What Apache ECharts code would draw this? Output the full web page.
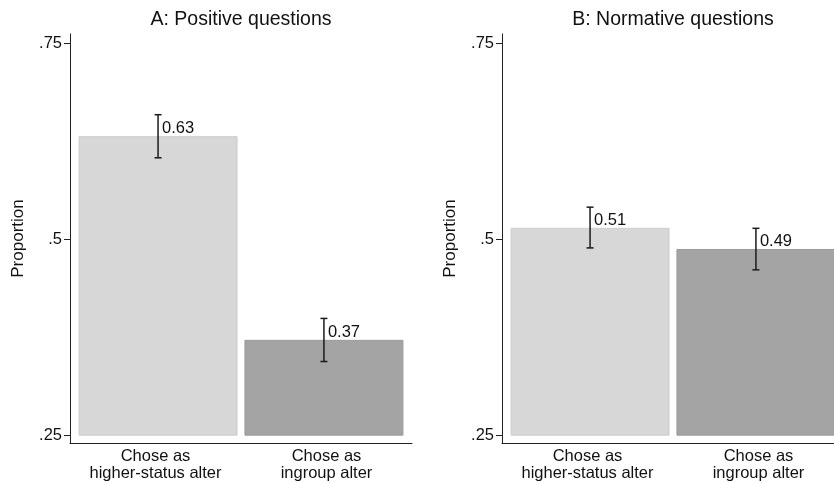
<!DOCTYPE html>
<html>
<head>
<meta charset="utf-8">
<script src="https://cdn.jsdelivr.net/npm/echarts@6/dist/echarts.min.js"></script>
<style>
html,body{margin:0;padding:0;background:#fff;}
#main{width:834px;height:484px;}
</style>
</head>
<body>
<div id="main"></div>
<script>
// ---- data ----
const categories = ['Chose as\nhigher-status alter', 'Chose as\ningroup alter'];
const panelTitles = ['A: Positive questions', 'B: Normative questions'];
const positiveMeans = [0.631, 0.371];
const positiveLow = [0.604, 0.344];
const positiveHigh = [0.659, 0.399];
const normativeMeans = [0.514, 0.487];
const normativeLow = [0.489, 0.461];
const normativeHigh = [0.541, 0.514];
const yTicks = [0.25, 0.5, 0.75];
const yTickLabels = ['.25', '.5', '.75'];
const baseValue = 0.25;
const yName = 'Proportion';

// ---- styles ----
const FONT = '"Liberation Sans", Arial, Helvetica, sans-serif';
const TXT = '#111';
const barFill = ['#d7d7d7', '#a4a4a4'];
const barStroke = ['#cdcdcd', '#9a9a9a'];

function barGeom(api, i) {
  const band = api.size([1, 0])[0];
  const w = band * 0.924;
  const shift = (i === 0 ? 1 : -1) * band * 0.015;
  return { w, shift };
}

function renderBar(params, api) {
  const i = api.value(0), v = api.value(1);
  const top = api.coord([i, v]);
  const bottom = api.coord([i, baseValue]);
  const g = barGeom(api, i);
  const cx = top[0] + g.shift;
  return {
    type: 'rect',
    shape: { x: cx - g.w / 2, y: top[1], width: g.w, height: bottom[1] - top[1] },
    style: { fill: barFill[i], stroke: barStroke[i], lineWidth: 1 }
  };
}

function renderErr(params, api) {
  const i = api.value(0), v = api.value(1), lo = api.value(2), hi = api.value(3);
  const g = barGeom(api, i);
  const pm = api.coord([i, v]);
  const pl = api.coord([i, lo]);
  const ph = api.coord([i, hi]);
  const cx = pm[0] + g.shift;
  const cap = 3.5;
  const ls = { stroke: '#1a1a1a', lineWidth: 1.5 };
  return {
    type: 'group',
    children: [
      { type: 'line', shape: { x1: cx, y1: ph[1], x2: cx, y2: pl[1] }, style: ls },
      { type: 'line', shape: { x1: cx - cap, y1: ph[1], x2: cx + cap, y2: ph[1] }, style: ls },
      { type: 'line', shape: { x1: cx - cap, y1: pl[1], x2: cx + cap, y2: pl[1] }, style: ls },
      { type: 'text', style: { text: v.toFixed(2), x: cx + 4, y: pm[1] - 8, fill: TXT,
          font: '16.5px ' + FONT, align: 'left', verticalAlign: 'middle' } }
    ]
  };
}

const grids = [
  { left: 70, width: 342, top: 34, bottom: 41, outerBoundsMode: 'none', containLabel: false },
  { left: 502, width: 342, top: 34, bottom: 41, outerBoundsMode: 'none', containLabel: false }
];

const panels = [
  { means: positiveMeans, low: positiveLow, high: positiveHigh },
  { means: normativeMeans, low: normativeLow, high: normativeHigh }
];

const option = {
  animation: false,
  backgroundColor: '#fff',
  title: panelTitles.map((t, k) => ({
    text: t,
    left: k === 0 ? 241 : 673,
    textAlign: 'center',
    top: 10,
    padding: 0,
    textStyle: { fontFamily: FONT, fontSize: 19.5, fontWeight: 'normal', color: TXT }
  })),
  grid: grids,
  xAxis: grids.map((g, k) => ({
    type: 'category',
    gridIndex: k,
    data: categories,
    boundaryGap: true,
    axisTick: { show: false },
    axisLine: { lineStyle: { color: '#222', width: 1 } },
    axisLabel: { fontFamily: FONT, fontSize: 16.5, lineHeight: 17, color: TXT, margin: 5, interval: 0 }
  })),
  yAxis: grids.map((g, k) => ({
    type: 'value',
    gridIndex: k,
    min: 0.24,
    max: 0.762,
    name: yName,
    nameLocation: 'middle',
    nameGap: 43,
    nameTextStyle: { fontFamily: FONT, fontSize: 17, color: TXT },
    splitLine: { show: false },
    axisLine: { show: true, lineStyle: { color: '#222', width: 1 } },
    axisTick: { show: true, length: 6, customValues: yTicks, lineStyle: { color: '#222' } },
    axisLabel: {
      customValues: yTicks,
      fontFamily: FONT, fontSize: 16.5, color: TXT, margin: 8,
      formatter: v => yTickLabels[yTicks.indexOf(v)]
    }
  })),
  series: []
};

panels.forEach((p, k) => {
  const data = p.means.map((m, i) => [i, m, p.low[i], p.high[i]]);
  option.series.push({
    type: 'custom', xAxisIndex: k, yAxisIndex: k, clip: true,
    renderItem: renderBar, encode: { x: 0, y: 1 }, data: data, z: 2
  });
  option.series.push({
    type: 'custom', xAxisIndex: k, yAxisIndex: k,
    renderItem: renderErr, encode: { x: 0, y: [1, 2, 3] }, data: data, z: 3
  });
});

const chart = echarts.init(document.getElementById('main'), null, { renderer: 'canvas' });
chart.setOption(option);
</script>
</body>
</html>
